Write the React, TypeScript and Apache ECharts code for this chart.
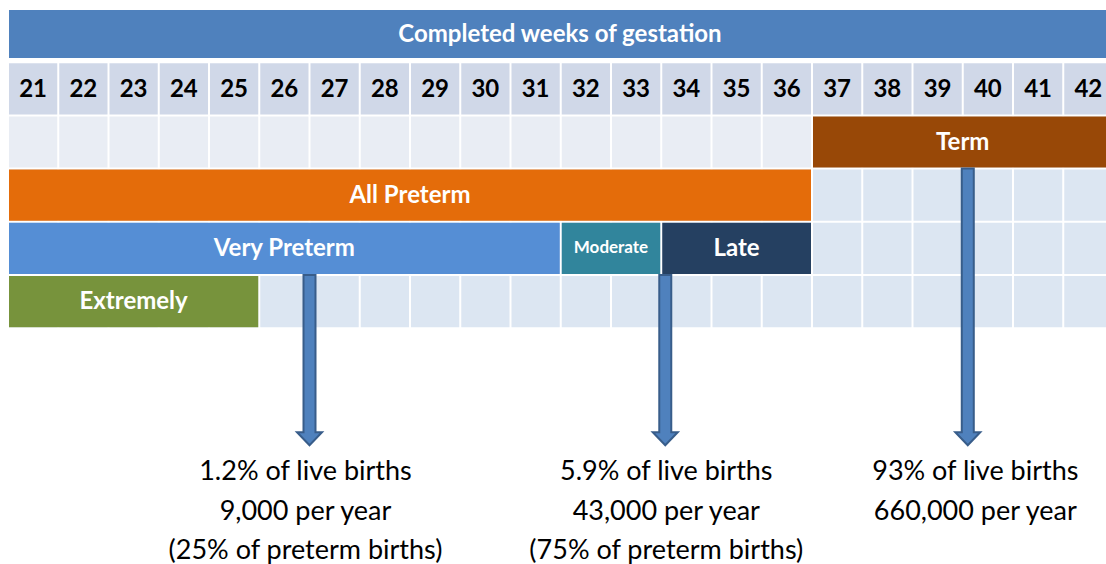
import React, { useEffect, useRef } from "react";
import * as echarts from "echarts";

// ---------- data ----------
const weeks = [21, 22, 23, 24, 25, 26, 27, 28, 29, 30, 31, 32, 33, 34, 35, 36, 37, 38, 39, 40, 41, 42];
const headerTitle = "Completed weeks of gestation";

// table body rows (1 = week numbers, 2..5 = band rows)
const bodyRows = [1, 2, 3, 4, 5];
const bodyRowFills = ["#D0D8E8", "#E9EDF4", "#DCE6F2", "#DCE6F2", "#DCE6F2"];

const bandNames = ["Term", "All Preterm", "Very Preterm", "Moderate", "Late", "Extremely"];
const bandStartWeek = [37, 21, 21, 32, 34, 21];
const bandEndWeek = [42, 36, 31, 33, 36, 25];
const bandRow = [2, 3, 4, 4, 4, 5];
const bandColors = ["#984807", "#E46C0A", "#558ED5", "#31859C", "#254061", "#77933C"];
const bandLabelSizes = [24, 24, 24, 17, 24, 24];

const arrowWeek = [27, 34.08, 40.1];
const arrowFromRow = [5, 5, 3];
const arrowTipRow = 8.2;
const noteWeek = [26.92, 34.1, 40.25];
const noteFirstLineRow = 8.665;
const noteLines = [
  ["1.2% of live births", "9,000 per year", "(25% of preterm births)"],
  ["5.9% of live births", "43,000 per year", "(75% of preterm births)"],
  ["93% of live births", "660,000 per year"],
];

const FONT = "Lato, 'Noto Sans', sans-serif";
const CHART_W = 1120;
const COL_W = 50.25;

export default function App() {
  const ref = useRef<HTMLDivElement>(null);

  useEffect(() => {
    if (!ref.current) return;
    const chart = echarts.init(ref.current, undefined, { renderer: "svg" });

    const firstWeek = weeks[0];
    const lastWeekEnd = weeks[weeks.length - 1] + 1;

    const headerData = [[firstWeek, lastWeekEnd, 0, 0.94]];

    const cellData: number[][] = [];
    const cellFill: string[] = [];
    bodyRows.forEach((r, ri) => {
      weeks.forEach((w) => {
        cellData.push([w, w + 1, r, r + 1]);
        cellFill.push(bodyRowFills[ri]);
      });
    });

    const weekLabelData = weeks.map((w) => [w, w + 1, 1, 2]);
    const bandData = bandNames.map((_, i) => [bandStartWeek[i], bandEndWeek[i] + 1, bandRow[i], bandRow[i] + 1]);
    const arrowData = arrowWeek.map((w, i) => [w, arrowFromRow[i], arrowTipRow]);
    const noteData = noteWeek.map((w) => [w, noteFirstLineRow]);

    const rectOf = (api: any) => {
      const p0 = api.coord([api.value(0), api.value(2)]);
      const p1 = api.coord([api.value(1), api.value(3)]);
      return {
        x: p0[0] + 1,
        y: p0[1] + 1,
        width: p1[0] - p0[0] - 2,
        height: p1[1] - p0[1] - 2,
      };
    };

    const textEl = (cx: number, cy: number, text: string, font: string, fill: string) => ({
      type: "text",
      x: cx,
      y: cy,
      style: {
        text,
        fill,
        font,
        align: "center",
        verticalAlign: "middle",
        textAlign: "center",
        textVerticalAlign: "middle",
      },
    });

    const gridW = weeks.length * COL_W;
    const LIFT = 2;

    const option: any = {
      animation: false,
      backgroundColor: "#ffffff",
      grid: { left: 8, top: 9, right: CHART_W - 8 - gridW, height: 532, containLabel: false },
      xAxis: { type: "value", min: firstWeek, max: lastWeekEnd, show: false },
      yAxis: { type: "value", min: 0, max: 10, inverse: true, show: false },
      series: [
        {
          type: "custom",
          clip: false,
          data: headerData,
          renderItem: (params: any, api: any) => {
            const s = rectOf(api);
            return {
              type: "group",
              children: [
                { type: "rect", shape: s, style: { fill: "#4F81BD" } },
                textEl(560, s.y + s.height / 2 - LIFT, headerTitle, `bold 24px ${FONT}`, "#ffffff"),
              ],
            };
          },
        },
        {
          type: "custom",
          clip: false,
          data: cellData,
          renderItem: (params: any, api: any) => ({
            type: "rect",
            shape: rectOf(api),
            style: { fill: cellFill[params.dataIndex] },
          }),
        },
        {
          type: "custom",
          clip: false,
          data: weekLabelData,
          renderItem: (params: any, api: any) => {
            const s = rectOf(api);
            return textEl(
              s.x + s.width / 2,
              s.y + s.height / 2 - 1,
              String(weeks[params.dataIndex]),
              `bold 24px ${FONT}`,
              "#000000"
            );
          },
        },
        {
          type: "custom",
          clip: false,
          data: bandData,
          renderItem: (params: any, api: any) => {
            const i = params.dataIndex;
            const s = rectOf(api);
            return {
              type: "group",
              children: [
                { type: "rect", shape: s, style: { fill: bandColors[i] } },
                textEl(
                  s.x + s.width / 2,
                  s.y + s.height / 2 - LIFT,
                  bandNames[i],
                  `bold ${bandLabelSizes[i]}px ${FONT}`,
                  "#ffffff"
                ),
              ],
            };
          },
        },
        {
          type: "custom",
          clip: false,
          data: arrowData,
          renderItem: (params: any, api: any) => {
            const top = api.coord([api.value(0), api.value(1)]);
            const tip = api.coord([api.value(0), api.value(2)]);
            const cx = top[0];
            const sw = 6;
            const hw = 12.5;
            const hh = 13;
            const hy = tip[1] - hh;
            return {
              type: "polygon",
              shape: {
                points: [
                  [cx - sw, top[1]],
                  [cx + sw, top[1]],
                  [cx + sw, hy],
                  [cx + hw, hy],
                  [cx, tip[1]],
                  [cx - hw, hy],
                  [cx - sw, hy],
                ],
              },
              style: { fill: "#4F81BD", stroke: "#385D8A", lineWidth: 2 },
            };
          },
        },
        {
          type: "custom",
          clip: false,
          data: noteData,
          renderItem: (params: any, api: any) => {
            const p = api.coord([api.value(0), api.value(1)]);
            const lines = noteLines[params.dataIndex];
            return {
              type: "group",
              children: lines.map((t, k) =>
                textEl(p[0], p[1] + k * 39.5, t, `27px ${FONT}`, "#000000")
              ),
            };
          },
        },
      ],
    };

    chart.setOption(option);
    return () => chart.dispose();
  }, []);

  return (
    <div
      ref={ref}
      style={{ position: "fixed", left: 0, top: 0, width: CHART_W, height: 564 }}
    />
  );
}
